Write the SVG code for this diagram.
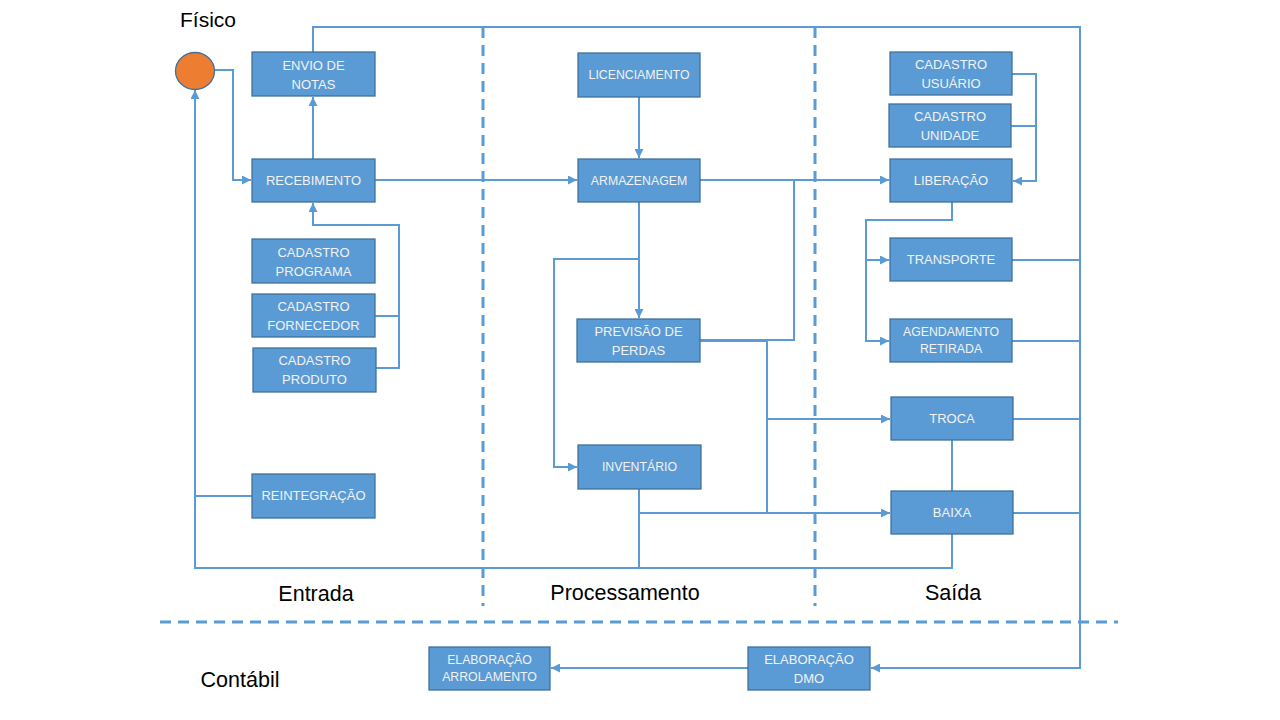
<svg xmlns="http://www.w3.org/2000/svg" width="1280" height="720" viewBox="0 0 1280 720">
<defs>
<marker id="ar" viewBox="0 0 10 10" refX="10" refY="5" markerWidth="4.5" markerHeight="4.5" orient="auto" markerUnits="strokeWidth">
<path d="M0,0 L10,5 L0,10 z" fill="#5b9bd5"/>
</marker>
<style>
.b{fill:#5b9bd5;stroke:#41719c;stroke-width:1.3}
.t{fill:#f2f2f2;font-family:"Liberation Sans",Arial,sans-serif;font-size:13px;text-anchor:middle}
.s{font-size:12.3px}
.c{fill:none;stroke:#5b9bd5;stroke-width:2}
.a{marker-end:url(#ar)}
.d{fill:none;stroke:#5b9bd5;stroke-width:3;stroke-dasharray:11 7}
.l{fill:#000;font-family:"Liberation Sans",Arial,sans-serif;font-size:21.5px;text-anchor:middle}
</style>
</defs>
<rect width="1280" height="720" fill="#fff"/>
<g id="separators">
<line class="d" x1="483" y1="27" x2="483" y2="606"/>
<line class="d" x1="815" y1="27" x2="815" y2="606"/>
<line class="d" x1="160" y1="622" x2="1118" y2="622"/>
</g>
<g id="labels">
<text class="l" x="208" y="27" style="font-size:21px">Físico</text>
<text class="l" x="316" y="601">Entrada</text>
<text class="l" x="625" y="600">Processamento</text>
<text class="l" x="953" y="600">Saída</text>
<text class="l" x="240" y="687">Contábil</text>
</g>
<g id="connectors">
<polyline class="c a" points="214,70 233,70 233,180 251,180"/>
<line class="c a" x1="313" y1="159" x2="313" y2="97"/>
<polyline class="c a" points="313,52 313,27 1080,27 1080,668 871,668"/>
<line class="c a" x1="375" y1="180" x2="577" y2="180"/>
<polyline class="c a" points="375,368 399,368 399,225 313,225 313,203"/>
<line class="c" x1="375" y1="316" x2="399" y2="316"/>
<polyline class="c a" points="952,534 952,568 195,568 195,90"/>
<line class="c" x1="252" y1="496" x2="195" y2="496"/>
<line class="c a" x1="639" y1="97" x2="639" y2="158"/>
<line class="c a" x1="700" y1="180" x2="889" y2="180"/>
<polyline class="c" points="794,180 794,340 700,340"/>
<polyline class="c a" points="639,202 639,318"/>
<polyline class="c a" points="639,259 554,259 554,467 577,467"/>
<polyline class="c a" points="700,341 767,341 767,513 890,513"/>
<line class="c a" x1="767" y1="419" x2="890" y2="419"/>
<polyline class="c" points="639,489 639,568"/>
<line class="c" x1="639" y1="513" x2="767" y2="513"/>
<polyline class="c a" points="1012,74 1036,74 1036,181 1013,181"/>
<line class="c" x1="1011" y1="126" x2="1036" y2="126"/>
<polyline class="c a" points="952,202 952,220 866,220 866,341 889,341"/>
<line class="c a" x1="866" y1="260" x2="889" y2="260"/>
<line class="c" x1="1012" y1="260" x2="1080" y2="260"/>
<line class="c" x1="1012" y1="341" x2="1080" y2="341"/>
<line class="c" x1="1013" y1="419" x2="1080" y2="419"/>
<line class="c" x1="1013" y1="513" x2="1080" y2="513"/>
<line class="c" x1="952" y1="440" x2="952" y2="491"/>
<line class="c a" x1="748" y1="668" x2="551" y2="668"/>
</g>
<g id="start"><ellipse cx="195" cy="71" rx="19.5" ry="18.5" fill="#ed7d31" stroke="#41719c" stroke-width="1.3"/></g>
<g id="envio"><rect class="b" x="252" y="52" width="123" height="44"/><text class="t" x="313.5" y="70">ENVIO DE</text><text class="t" x="313.5" y="89">NOTAS</text></g>
<g id="recebimento"><rect class="b" x="252" y="159" width="123" height="43"/><text class="t" x="313.5" y="185">RECEBIMENTO</text></g>
<g id="cad-programa"><rect class="b" x="252" y="239" width="123" height="44"/><text class="t" x="313.5" y="257">CADASTRO</text><text class="t" x="313.5" y="276">PROGRAMA</text></g>
<g id="cad-fornecedor"><rect class="b" x="252" y="294" width="123" height="43"/><text class="t" x="313.5" y="311">CADASTRO</text><text class="t" x="313.5" y="330">FORNECEDOR</text></g>
<g id="cad-produto"><rect class="b" x="253" y="348" width="123" height="44"/><text class="t" x="314.5" y="365">CADASTRO</text><text class="t" x="314.5" y="384">PRODUTO</text></g>
<g id="reintegracao"><rect class="b" x="252" y="474" width="123" height="44"/><text class="t" x="313.5" y="500">REINTEGRAÇÃO</text></g>
<g id="licenciamento"><rect class="b" x="578" y="53" width="122" height="44"/><text class="t s" x="639" y="79">LICENCIAMENTO</text></g>
<g id="armazenagem"><rect class="b" x="578" y="159" width="122" height="43"/><text class="t s" x="639" y="185">ARMAZENAGEM</text></g>
<g id="previsao"><rect class="b" x="577" y="319" width="123" height="43"/><text class="t" x="638.5" y="336">PREVISÃO DE</text><text class="t" x="638.5" y="355">PERDAS</text></g>
<g id="inventario"><rect class="b" x="578" y="445" width="123" height="44"/><text class="t s" x="639.5" y="471">INVENTÁRIO</text></g>
<g id="cad-usuario"><rect class="b" x="890" y="52" width="122" height="43"/><text class="t" x="951" y="69">CADASTRO</text><text class="t" x="951" y="88">USUÁRIO</text></g>
<g id="cad-unidade"><rect class="b" x="889" y="104" width="122" height="43"/><text class="t" x="950" y="121">CADASTRO</text><text class="t" x="950" y="140">UNIDADE</text></g>
<g id="liberacao"><rect class="b" x="890" y="159" width="122" height="43"/><text class="t" x="951" y="185">LIBERAÇÃO</text></g>
<g id="transporte"><rect class="b" x="890" y="238" width="122" height="43"/><text class="t" x="951" y="264">TRANSPORTE</text></g>
<g id="agendamento"><rect class="b" x="890" y="319" width="122" height="43"/><text class="t s" x="951" y="336">AGENDAMENTO</text><text class="t s" x="951" y="353">RETIRADA</text></g>
<g id="troca"><rect class="b" x="891" y="397" width="122" height="43"/><text class="t" x="952" y="423">TROCA</text></g>
<g id="baixa"><rect class="b" x="891" y="491" width="122" height="43"/><text class="t" x="952" y="517">BAIXA</text></g>
<g id="arrolamento"><rect class="b" x="429" y="647" width="121" height="43"/><text class="t s" x="489.5" y="664">ELABORAÇÃO</text><text class="t s" x="489.5" y="681">ARROLAMENTO</text></g>
<g id="dmo"><rect class="b" x="748" y="647" width="122" height="43"/><text class="t" x="809" y="664">ELABORAÇÃO</text><text class="t" x="809" y="683">DMO</text></g>
</svg>
